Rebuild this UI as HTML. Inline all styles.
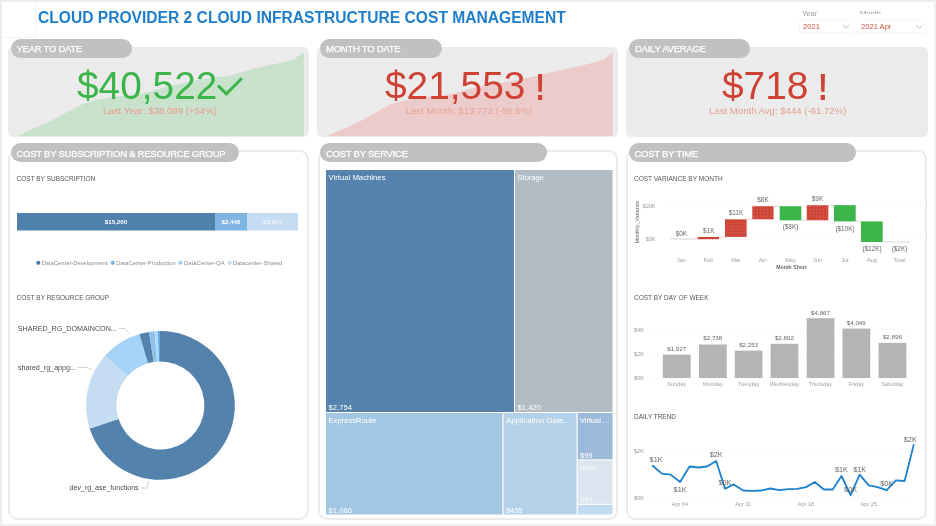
<!DOCTYPE html>
<html lang="en">
<head>
<meta charset="utf-8">
<title>Cloud Provider 2 Cloud Infrastructure Cost Management</title>
<style>
*{box-sizing:border-box;margin:0;padding:0}
html,body{width:936px;height:526px;overflow:hidden;background:#fff}
body{position:relative;font-family:"Liberation Sans",sans-serif;color:#555}
.abs{position:absolute}
.edge{position:absolute;background:#ececec}
.title{position:absolute;left:38px;top:8.7px;font-size:16px;line-height:18px;font-weight:bold;color:#1e7ecb;white-space:nowrap;transform-origin:0 50%;transform:scaleX(0.975)}
.card{position:absolute;top:47px;height:89.6px;background:#ebebeb;border-radius:5px;overflow:hidden}
.pill{position:absolute;height:19px;background:#c1c1c1;border-radius:9.5px;color:#fff;font-size:9.5px;line-height:22.4px;padding-left:6px;white-space:nowrap;letter-spacing:-0.25px;-webkit-text-stroke:0.25px #fff}
.panel{position:absolute;top:150px;height:369.5px;border:2px solid #ebebeb;border-radius:9px;background:#fff}
.kpi{position:absolute;font-size:39.3px;line-height:41px;white-space:nowrap;transform-origin:0 50%;transform:scaleX(0.988)}
.kpi b{position:absolute;font-size:36.2px;line-height:41px;top:2.4px;transform:scaleX(0.82)}
.sub{position:absolute;font-size:9.6px;line-height:12px;white-space:nowrap}
.lbl{position:absolute;font-size:7.6px;line-height:10px;color:#555;white-space:nowrap;letter-spacing:-0.15px}
.slicer-h{position:absolute;font-size:7.5px;color:#999;line-height:9px}
.slicer{position:absolute;top:19.5px;height:13px;border:1px solid #faf6f3;font-size:7.6px;line-height:11px;color:#c8553d;padding-left:3px;background:#fff}
svg{position:absolute;left:0;top:0;overflow:visible}
svg text{font-family:"Liberation Sans",sans-serif}
</style>
</head>
<body>
<!-- frame edges -->
<div class="edge" style="left:0;top:0;width:936px;height:2px"></div>
<div class="edge" style="left:0;top:0;width:2px;height:526px"></div>
<div class="edge" style="left:934px;top:0;width:2px;height:526px;background:#f0f0f0"></div>
<div class="edge" style="left:0;top:524px;width:936px;height:2px;background:#f0f0f0"></div>
<div class="edge" style="left:35px;top:2px;width:1px;height:35px;background:#f4f4f4"></div>
<div class="edge" style="left:2px;top:37px;width:34px;height:1px;background:#f4f4f4"></div>

<div class="title">CLOUD PROVIDER 2 CLOUD INFRASTRUCTURE COST MANAGEMENT</div>

<!-- slicers -->
<div class="slicer-h" style="left:802px;top:9px">Year</div>
<div class="slicer-h" style="left:860px;top:9px;height:5.3px;overflow:hidden">Month</div>
<div class="slicer" style="left:799px;width:55px">2021</div>
<div class="slicer" style="left:857px;width:69px">2021 Apr</div>
<svg width="936" height="526" viewBox="0 0 936 526"><g fill="none" stroke="#b9aaa3" stroke-width="0.8"><path d="M843,25 L846.2,28.2 L849.4,25"/><path d="M916,25 L919.3,28.2 L922.6,25"/></g></svg>

<!-- KPI cards -->
<div class="card" id="c1" style="left:8px;width:301px"></div>
<div class="card" id="c2" style="left:317px;width:301px"></div>
<div class="card" id="c3" style="left:626px;width:302px"></div>


<!-- KPI area charts -->
<svg width="936" height="526" viewBox="0 0 936 526">
  <defs>
    <clipPath id="cp1"><rect x="8" y="47" width="301" height="89" rx="5"/></clipPath>
    <clipPath id="cp2"><rect x="317" y="47" width="301" height="89" rx="5"/></clipPath>
  </defs>
  <g clip-path="url(#cp1)">
    <polygon fill="#c8e2cb" points="15,137 17.8,135.5 34.8,128 52.7,120 67,111.9 83,103.9 97.4,99.4 115.3,96.7 133,95 151,91.4 160,88.5 177.9,84.2 195.8,80.6 219,77.1 231.5,75.3 240.4,72.6 253,69 267.3,65.5 285,61.9 294,59.2 303.9,52 303.9,137"/>
  </g>
  <g clip-path="url(#cp2)">
    <polygon fill="#ecccca" points="325,137 328.5,135.5 342.8,128.9 360.7,120.9 375,112.8 391,103.9 405.4,100.3 423.3,97.6 441,95.8 459,92.3 468,89.2 485.9,85.1 503.8,82.4 527,78 543,74.4 561,69.9 578.8,66.3 593.1,62.8 603.9,59.2 612.8,52 612.8,137"/>
  </g>
</svg>

<div class="kpi" style="left:77px;top:64.9px;color:#3bb44a">$40,522</div>
<svg width="936" height="526" viewBox="0 0 936 526"><path d="M218,85.6 L226.4,93.9 L241.9,78.2" fill="none" stroke="#3bb44a" stroke-width="3"/></svg>
<div class="sub" style="left:103px;top:104.5px;color:#ea9a8e">Last Year: $38,089 (+54%)</div>

<div class="kpi" style="left:385px;top:64.9px;color:#cf4233">$21,553<b style="left:150.6px">!</b></div>
<div class="sub" style="left:405.5px;top:104.5px;color:#e2a391">Last Month: $13,772 (-56.5%)</div>

<div class="kpi" style="left:721.5px;top:64.9px;color:#cf4233">$718<b style="left:95.5px">!</b></div>
<div class="sub" style="left:709px;top:104.5px;color:#e3a08f">Last Month Avg: $444 (-61.72%)</div>

<div class="pill" style="left:10.5px;top:39px;width:121.5px;line-height:20.6px">YEAR TO DATE</div>
<div class="pill" style="left:320px;top:39px;width:122px;line-height:20.6px">MONTH TO DATE</div>
<div class="pill" style="left:629px;top:39px;width:121px;line-height:20.6px">DAILY AVERAGE</div>

<!-- panels -->
<div class="panel" style="left:8px;width:301.3px"></div>
<div class="panel" style="left:317.5px;width:300.5px"></div>
<div class="panel" style="left:626px;width:301px"></div>

<div class="pill" style="left:10.5px;top:143.3px;width:228px">COST BY SUBSCRIPTION &amp; RESOURCE GROUP</div>
<div class="pill" style="left:320px;top:143.3px;width:227px">COST BY SERVICE</div>
<div class="pill" style="left:628.5px;top:143.3px;width:227.5px">COST BY TIME</div>


<!-- LEFT PANEL -->

<svg width="936" height="526" viewBox="0 0 936 526">
  <rect x="17" y="213" width="198" height="17.5" fill="#5081ad"/>
  <rect x="215" y="213" width="32" height="17.5" fill="#80b5e1"/>
  <rect x="247" y="213" width="51" height="17.5" fill="#c4ddf2"/>
  <g font-size="6.2" fill="#fff" text-anchor="middle" font-weight="bold">
    <text x="116" y="224">$15,200</text>
    <text x="231" y="224">$2,446</text>
    <text x="272.5" y="224" fill="#eef5fb">$3,907</text>
  </g>
  <circle cx="38.3" cy="262.8" r="2.1" fill="#4a7aa8"/>
  <circle cx="112.8" cy="262.8" r="2.1" fill="#7fb4e0"/>
  <circle cx="180.5" cy="262.8" r="2.1" fill="#a5cdf0"/>
  <circle cx="229.7" cy="262.8" r="2.1" fill="#c4ddf2"/>
  <g font-size="6.1" fill="#8a8a8a">
    <text x="41.7" y="264.8" textLength="65.7" lengthAdjust="spacingAndGlyphs">DataCenter-Development</text>
    <text x="116.2" y="264.8" textLength="59.5" lengthAdjust="spacingAndGlyphs">DataCenter-Production</text>
    <text x="184" y="264.8" textLength="40.6" lengthAdjust="spacingAndGlyphs">DataCenter-QA</text>
    <text x="232.8" y="264.8" textLength="49.6" lengthAdjust="spacingAndGlyphs">Datacenter-Shared</text>
  </g>
  <g>
    <path fill="#5382ad" d="M159.49,331.01 A74.4,74.4 0 1 1 89.64,428.39 L118.55,419.00 A44,44 0 1 0 159.86,361.40 Z"/>
    <path fill="#c4ddf2" d="M89.64,428.39 A74.4,74.4 0 0 1 105.11,355.62 L127.70,375.96 A44,44 0 0 0 118.55,419.00 Z"/>
    <path fill="#a5d2f7" d="M105.11,355.62 A74.4,74.4 0 0 1 139.39,334.03 L147.98,363.19 A44,44 0 0 0 127.70,375.96 Z"/>
    <path fill="#5382ad" d="M139.39,334.03 A74.4,74.4 0 0 1 149.02,331.88 L153.67,361.92 A44,44 0 0 0 147.98,363.19 Z"/>
    <path fill="#8dc1ea" d="M149.02,331.88 A74.4,74.4 0 0 1 154.69,331.22 L157.02,361.53 A44,44 0 0 0 153.67,361.92 Z"/>
    <path fill="#b3d7f4" d="M154.69,331.22 A74.4,74.4 0 0 1 158.06,331.04 L159.02,361.42 A44,44 0 0 0 157.02,361.53 Z"/>
    <path fill="#2f95e0" d="M158.06,331.04 A74.4,74.4 0 0 1 159.49,331.01 L159.86,361.40 A44,44 0 0 0 159.02,361.42 Z"/>
  </g>
  <g fill="none" stroke="#c8c8c8" stroke-width="0.8">
    <path d="M119,328.5 L125,328.5 L129,334"/>
    <path d="M78,367.5 L88,367.5 L92,370.5"/>
    <path d="M141,488 L147,488 L148.5,481"/>
  </g>
  <g font-size="7.1" fill="#4a4a4a">
    <text x="17.8" y="330.5" textLength="99" lengthAdjust="spacingAndGlyphs">SHARED_RG_DOMAINCON...</text>
    <text x="18" y="370" textLength="58" lengthAdjust="spacingAndGlyphs">shared_rg_appg...</text>
    <text x="69.6" y="490.2" textLength="69" lengthAdjust="spacingAndGlyphs">dev_rg_ase_functions</text>
  </g>
</svg>
<svg width="936" height="526" viewBox="0 0 936 526"><g font-size="7.6" fill="#555"><text x="16.6" y="181.3" textLength="78.7" lengthAdjust="spacingAndGlyphs">COST BY SUBSCRIPTION</text><text x="16.6" y="299.5" textLength="92.5" lengthAdjust="spacingAndGlyphs">COST BY RESOURCE GROUP</text></g></svg>


<!-- MIDDLE PANEL: treemap -->
<svg width="936" height="526" viewBox="0 0 936 526">
  <defs>
    <pattern id="dots" width="2" height="2" patternUnits="userSpaceOnUse"><rect width="2" height="2" fill="#98b7d8"/><rect width="1" height="1" fill="#abc5e0"/></pattern>
  </defs>
  <rect x="326" y="170" width="188" height="242" fill="#5583ae"/>
  <rect x="515" y="170" width="97.5" height="242" fill="#b1bcc5"/>
  <rect x="326" y="413" width="176.3" height="101.5" fill="#a3c6e3"/>
  <rect x="503.5" y="413" width="73" height="101.5" fill="#b3d1e9"/>
  <rect x="577.7" y="413" width="34.8" height="46.3" fill="url(#dots)"/>
  <rect x="577.7" y="460.4" width="34.8" height="43.4" fill="#dbe5ef"/>
  <rect x="577.7" y="504.9" width="34.8" height="9.6" fill="#c0dbf2"/>
  <g font-size="7" fill="#fff">
    <text x="328.5" y="179.5" textLength="57" lengthAdjust="spacingAndGlyphs">Virtual Machines</text>
    <text x="517.5" y="179.5" textLength="26.5" lengthAdjust="spacingAndGlyphs">Storage</text>
    <text x="328.5" y="410" textLength="23.5" lengthAdjust="spacingAndGlyphs">$2,754</text>
    <text x="517.5" y="410" textLength="23.5" lengthAdjust="spacingAndGlyphs">$1,420</text>
    <text x="328.5" y="422.5" textLength="48" lengthAdjust="spacingAndGlyphs">ExpressRoute</text>
    <text x="328.5" y="512.5" textLength="23.5" lengthAdjust="spacingAndGlyphs">$1,086</text>
    <text x="506" y="422.5" textLength="64" lengthAdjust="spacingAndGlyphs">Application Gate...</text>
    <text x="506" y="512.5" textLength="16.5" lengthAdjust="spacingAndGlyphs">$455</text>
    <text x="580" y="422.5" textLength="29" lengthAdjust="spacingAndGlyphs">Virtual ...</text>
    <text x="580" y="457.5" textLength="12.5" lengthAdjust="spacingAndGlyphs">$99</text>
    <text x="580" y="469.5" textLength="20" lengthAdjust="spacingAndGlyphs" fill="#f4f7fa">Band...</text>
    <text x="580" y="502" textLength="12.5" lengthAdjust="spacingAndGlyphs" fill="#f4f7fa">$94</text>
  </g>
</svg>


<!-- RIGHT PANEL -->
<svg width="936" height="526" viewBox="0 0 936 526">
  <!-- waterfall -->
  <defs><pattern id="rdots" width="3.3" height="3.3" patternUnits="userSpaceOnUse"><rect width="3.3" height="3.3" fill="#cf4437"/><circle cx="1.65" cy="1.65" r="0.5" fill="#e9a59d"/></pattern></defs>
  <g stroke="#e2e2e2" stroke-width="0.7" stroke-dasharray="1 3" fill="none">
    <path d="M664,205.7 H921"/>
    <path d="M664,239.3 H921"/>
  </g>
  <g font-size="5.6" fill="#9a9a9a" text-anchor="end">
    <text x="655.6" y="207.6">$20K</text>
    <text x="655.6" y="241.2">$0K</text>
  </g>
  <text transform="translate(638.6,222) rotate(-90)" font-size="5.4" fill="#666" text-anchor="middle">Monthly_Variance</text>
  <g stroke="#cfcfcf" stroke-width="0.8" fill="none">
    <path d="M670.5,239 H697.5"/>
    <path d="M719,237 H725"/>
    <path d="M746.6,219.3 H752.3"/>
    <path d="M773.6,206.2 H779.7"/>
    <path d="M801.3,220.3 H806.7"/>
    <path d="M828.3,205.2 H834"/>
    <path d="M855.7,221.4 H861"/>
    <path d="M882.7,242 H910"/>
  </g>
  <rect x="697.6" y="237" width="21.4" height="2.2" fill="#cf4437"/>
  <rect x="725" y="219.3" width="21.6" height="17.7" fill="url(#rdots)"/>
  <rect x="752.3" y="206.2" width="21.3" height="13.1" fill="url(#rdots)"/>
  <rect x="779.7" y="206.2" width="21.6" height="14.1" fill="#3bb44a"/>
  <rect x="806.7" y="205.2" width="21.6" height="15.1" fill="url(#rdots)"/>
  <rect x="834" y="205.2" width="21.7" height="16.2" fill="#3bb44a"/>
  <rect x="861" y="221.4" width="21.7" height="20.6" fill="#3bb44a"/>
  <g font-size="6.4" fill="#666" text-anchor="middle">
    <text x="681.4" y="235.6">$0K</text>
    <text x="708.8" y="233.3">$1K</text>
    <text x="736" y="214.9">$11K</text>
    <text x="763" y="202.3">$8K</text>
    <text x="790.5" y="229.1">($8K)</text>
    <text x="817.5" y="201">$9K</text>
    <text x="845" y="230.8">($10K)</text>
    <text x="872" y="251">($12K)</text>
    <text x="899.5" y="251">($2K)</text>
  </g>
  <g font-size="5.6" fill="#a0a0a0" text-anchor="middle">
    <text x="681.4" y="262">Jan</text>
    <text x="708.5" y="262">Feb</text>
    <text x="736" y="262">Mar</text>
    <text x="763" y="262">Apr</text>
    <text x="790.5" y="262">May</text>
    <text x="817.5" y="262">Jun</text>
    <text x="845" y="262">Jul</text>
    <text x="872" y="262">Aug</text>
    <text x="899.5" y="262">Total</text>
  </g>
  <text x="791.5" y="268.6" font-size="5.2" fill="#666" text-anchor="middle" font-weight="bold">Month Short</text>

  <!-- day of week -->
  <g stroke="#e2e2e2" stroke-width="0.7" stroke-dasharray="1 3" fill="none">
    <path d="M650,329.6 H910"/>
    <path d="M650,353.6 H910"/>
    <path d="M650,378.2 H910"/>
  </g>
  <g font-size="5.6" fill="#9a9a9a">
    <text x="634" y="331.6">$4K</text>
    <text x="634" y="355.6">$2K</text>
    <text x="634" y="379.9">$0K</text>
  </g>
  <g fill="#b4b4b4">
    <rect x="662.9" y="354.6" width="27.7" height="23.4"/>
    <rect x="699" y="344.5" width="27.7" height="33.5"/>
    <rect x="734.8" y="350.6" width="27.7" height="27.4"/>
    <rect x="770.6" y="343.8" width="27.7" height="34.2"/>
    <rect x="806.7" y="318.2" width="27.7" height="59.8"/>
    <rect x="842.5" y="328.6" width="27.7" height="49.4"/>
    <rect x="878.6" y="342.8" width="27.7" height="35.2"/>
  </g>
  <g font-size="6.2" fill="#666" text-anchor="middle">
    <text x="676.7" y="350.5">$1,927</text>
    <text x="712.8" y="340.4">$2,738</text>
    <text x="748.6" y="346.5">$2,253</text>
    <text x="784.4" y="339.7">$2,802</text>
    <text x="820.5" y="314.6">$4,867</text>
    <text x="856.3" y="324.6">$4,049</text>
    <text x="892.4" y="338.7">$2,896</text>
  </g>
  <g font-size="5.6" fill="#a0a0a0" text-anchor="middle">
    <text x="676.7" y="385.6">Sunday</text>
    <text x="712.8" y="385.6">Monday</text>
    <text x="748.6" y="385.6">Tuesday</text>
    <text x="784.4" y="385.6">Wednesday</text>
    <text x="820.5" y="385.6">Thursday</text>
    <text x="856.3" y="385.6">Friday</text>
    <text x="892.4" y="385.6">Saturday</text>
  </g>

  <!-- daily trend -->
  <g stroke="#e2e2e2" stroke-width="0.7" stroke-dasharray="1 3" fill="none">
    <path d="M650,450.6 H912"/>
    <path d="M650,497.9 H912"/>
  </g>
  <g font-size="5.6" fill="#9a9a9a">
    <text x="634" y="452.6">$2K</text>
    <text x="634" y="499.9">$0K</text>
  </g>
  <g font-size="5.6" fill="#a0a0a0" text-anchor="middle">
    <text x="680" y="506">Apr 04</text>
    <text x="743.2" y="506">Apr 11</text>
    <text x="806" y="506">Apr 18</text>
    <text x="868.8" y="506">Apr 25</text>
  </g>
  <polyline fill="none" stroke="#1b80cd" stroke-width="1.8" stroke-linejoin="round" stroke-linecap="round" points="652.7,465.8 661.9,473.6 670.6,474.6 680.1,482.0 689.5,466.5 698.3,467.5 707.1,466.5 716.2,461.1 725.0,488.8 733.8,484.4 743.2,490.5 752.3,490.8 761.1,490.5 770.2,488.5 779.4,490.1 788.5,489.1 797.2,488.8 806.0,487.1 814.8,482.0 823.9,489.5 832.7,489.5 841.5,476.0 850.6,495.2 859.7,474.6 868.8,485.4 877.6,487.1 886.7,490.1 895.8,480.4 904.6,481.0 913.7,444.9"/>
  <g font-size="7.3" fill="#666" text-anchor="middle">
    <text x="656.1" y="462.4">$1K</text>
    <text x="680.1" y="491.7">$1K</text>
    <text x="716.2" y="457.3">$2K</text>
    <text x="725.0" y="485.3">$0K</text>
    <text x="841.5" y="472.1">$1K</text>
    <text x="850.6" y="492.1">$0K</text>
    <text x="859.7" y="471.5">$1K</text>
    <text x="886.7" y="486.3">$0K</text>
    <text x="910.3" y="441.8">$2K</text>
  </g>

  <!-- section labels -->
  <g font-size="7.6" fill="#555">
    <text x="634" y="181.3" textLength="88.6" lengthAdjust="spacingAndGlyphs">COST VARIANCE BY MONTH</text>
    <text x="634" y="299.6" textLength="74.5" lengthAdjust="spacingAndGlyphs">COST BY DAY OF WEEK</text>
    <text x="634" y="418.9" textLength="42" lengthAdjust="spacingAndGlyphs">DAILY TREND</text>
  </g>
</svg>

</body>
</html>
